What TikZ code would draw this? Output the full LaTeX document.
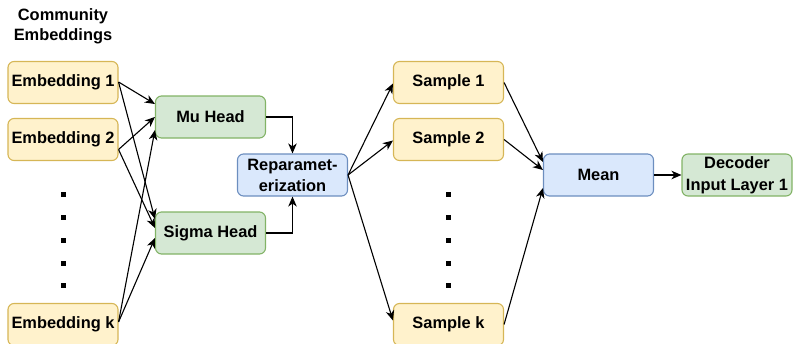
\documentclass[tikz,border=0pt]{standalone}
\usepackage{fontspec}
\setmainfont{Liberation Sans}
\usetikzlibrary{arrows.meta,calc}
\definecolor{yfill}{HTML}{FFF2CC}\definecolor{ydraw}{HTML}{D6B656}
\definecolor{gfill}{HTML}{D5E8D4}\definecolor{gdraw}{HTML}{82B366}
\definecolor{bfill}{HTML}{DAE8FC}\definecolor{bdraw}{HTML}{6C8EBF}
\tikzset{
  box/.style={rounded corners=6pt, line width=1.1pt, minimum width=110pt, minimum height=42pt,
    inner sep=0pt, align=center, font=\bfseries\fontsize{16.4}{21}\selectfont},
  ybox/.style={box, fill=yfill, draw=ydraw},
  gbox/.style={box, fill=gfill, draw=gdraw},
  bbox/.style={box, fill=bfill, draw=bdraw},
  arr/.style={line width=1.1pt, -{Stealth[length=10pt,width=8.5pt,inset=3pt]}},
  dotsq/.style={fill=black, minimum size=5pt, inner sep=0pt, draw=none},
}
\begin{document}
\begin{tikzpicture}[x=1pt,y=-1pt]
\useasboundingbox (0,0) rectangle (793,343);
\node[font=\bfseries\fontsize{16.4}{20}\selectfont, align=center] (title) at (63,26) {Community\\Embeddings};
\node[ybox] (emb1) at (63,82.5) {Embedding 1};
\node[ybox] (emb2) at (63,139.5) {Embedding 2};
\node[ybox] (embk) at (63,324.5) {Embedding k};
\node[gbox] (mu) at (210.5,117) {Mu Head};
\node[gbox] (sigma) at (210.5,233) {Sigma Head};
\node[bbox] (rep) at (292.5,175) {Reparamet-\\erization};
\node[ybox] (s1) at (448.5,82.5) {Sample 1};
\node[ybox] (s2) at (448.5,139.5) {Sample 2};
\node[ybox] (sk) at (448.5,324.5) {Sample k};
\node[bbox] (mean) at (598.5,175) {Mean};
\node[gbox, font=\bfseries\fontsize{16.4}{22}\selectfont] (dec) at (737,175) {Decoder\\Input Layer 1};
\foreach \y [count=\i] in {194,217,240,263,285} {
  \node[dotsq] (ld\i) at (63,\y) {};
  \node[dotsq] (rd\i) at (448,\y) {};
}
% embeddings to heads
\coordinate (e1o) at ([yshift=0.5pt]emb1.east);
\coordinate (e2o) at ([yshift=-10pt]emb2.east);
\coordinate (eko) at ([yshift=2.5pt]embk.east);
\draw[arr] (e1o) -- ([yshift=13pt]mu.west);
\draw[arr] (e1o) -- ([yshift=14pt]sigma.west);
\draw[arr] (e2o) -- ([yshift=0pt]mu.west);
\draw[arr] (e2o) -- ([yshift=5pt]sigma.west);
\draw[arr] (eko) -- ([yshift=-13pt]mu.west);
\draw[arr] (eko) -- ([yshift=-5pt]sigma.west);
% heads to reparameterization
\draw[arr] (mu.east) -| (rep.north);
\draw[arr] (sigma.east) -| (rep.south);
% reparameterization to samples
\draw[arr] (rep.east) -- ([yshift=-1pt]s1.west);
\draw[arr] (rep.east) -- ([yshift=-1pt]s2.west);
\draw[arr] (rep.east) -- ([yshift=4pt]sk.west);
% samples to mean
\draw[arr] (s1.east) -- ([yshift=13pt]mean.west);
\draw[arr] (s2.east) -- ([yshift=5pt]mean.west);
\draw[arr] (sk.east) -- ([yshift=-13pt]mean.west);
\draw[arr] (mean.east) -- (dec.west);
\end{tikzpicture}
\end{document}
